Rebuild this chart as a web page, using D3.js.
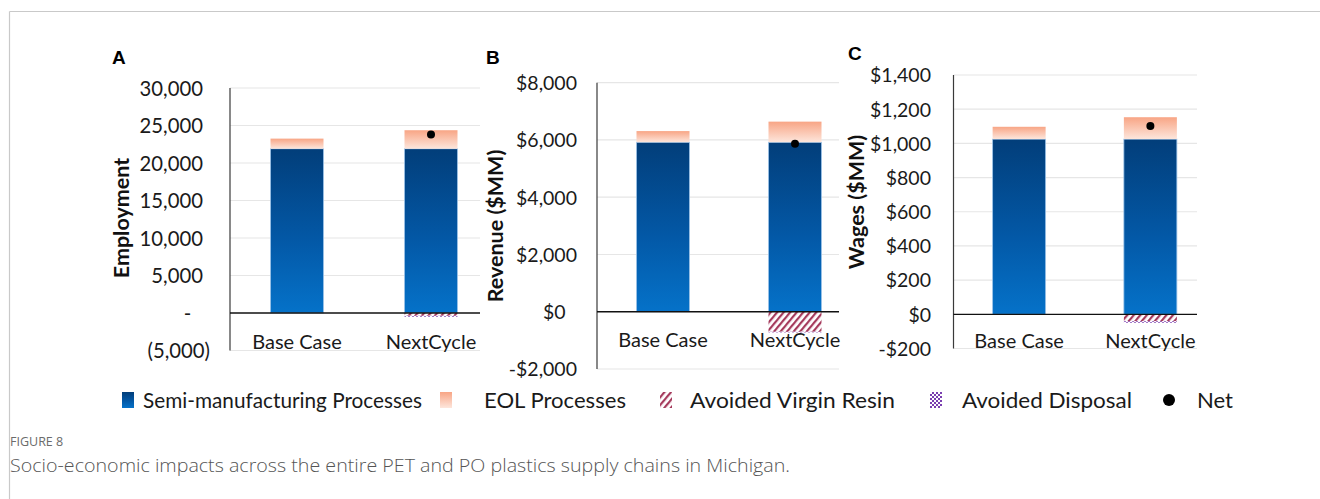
<!DOCTYPE html>
<html><head><meta charset="utf-8">
<script src="https://cdn.jsdelivr.net/npm/d3@7"></script>
<style>body{margin:0;background:#fff} svg{display:block}</style>
</head><body>
<svg id="c" width="1320" height="499"></svg>
<script>
// ---------- DATA ----------
const categories = ["Base Case", "NextCycle"];
const panelLetters = ["A", "B", "C"];
const axisTitles = ["Employment", "Revenue ($MM)", "Wages ($MM)"];
const legendLabels = ["Semi-manufacturing Processes", "EOL Processes", "Avoided Virgin Resin", "Avoided Disposal", "Net"];

const employmentSemi = [21900, 21900];
const employmentEOL = [1350, 2470];
const employmentVirgin = [0, -370];
const employmentDisposal = [0, -120];
const employmentNet = [null, 23800];
const employmentTicks = [-5000, 0, 5000, 10000, 15000, 20000, 25000, 30000];
const employmentTickLabels = ["(5,000)", "-\u2007", "5,000", "10,000", "15,000", "20,000", "25,000", "30,000"];

const revenueSemi = [5920, 5920];
const revenueEOL = [390, 720];
const revenueVirgin = [0, -700];
const revenueDisposal = [0, -20];
const revenueNet = [null, 5870];
const revenueTicks = [-2000, 0, 2000, 4000, 6000, 8000];
const revenueTickLabels = ["-$2,000", "$0\u2007", "$2,000", "$4,000", "$6,000", "$8,000"];

const wagesSemi = [1025, 1025];
const wagesEOL = [72, 128];
const wagesVirgin = [0, -41];
const wagesDisposal = [0, -8];
const wagesNet = [null, 1102];
const wagesTicks = [-200, 0, 200, 400, 600, 800, 1000, 1200, 1400];
const wagesTickLabels = ["-$200", "$0", "$200", "$400", "$600", "$800", "$1,000", "$1,200", "$1,400"];

const figureLabel = "FIGURE 8";
const captionText = "Socio-economic impacts across the entire PET and PO plastics supply chains in Michigan.";

// ---------- PANELS (built from the arrays) ----------
const panelData = [
  {semi: employmentSemi, eol: employmentEOL, virgin: employmentVirgin, disposal: employmentDisposal, net: employmentNet, ticks: employmentTicks, tickLabels: employmentTickLabels},
  {semi: revenueSemi, eol: revenueEOL, virgin: revenueVirgin, disposal: revenueDisposal, net: revenueNet, ticks: revenueTicks, tickLabels: revenueTickLabels},
  {semi: wagesSemi, eol: wagesEOL, virgin: wagesVirgin, disposal: wagesDisposal, net: wagesNet, ticks: wagesTicks, tickLabels: wagesTickLabels}
];

const layouts = [
  {x0: 230, gridEnd: 480, bandEnd: 498, yTop: 88, yBot: 350.5, labelEnd: 203, tickSize: 20.3, titleX: 121, titleY: 218, letterX: 112, letterY: 64, catY: 349},
  {x0: 597, gridEnd: 839, bandEnd: 861, yTop: 82.7, yBot: 369, labelEnd: 577, tickSize: 19.5, titleX: 495, titleY: 226, letterX: 486, letterY: 64, catY: 347},
  {x0: 953.5, gridEnd: 1197, bandEnd: 1216, yTop: 75, yBot: 348.5, labelEnd: 931, tickSize: 19.5, titleX: 856, titleY: 202, letterX: 848, letterY: 60, catY: 348}
];

const FONT = "Lato, 'Open Sans', sans-serif";
const svg = d3.select("#c");
const defs = svg.append("defs");

const gSemi = defs.append("linearGradient").attr("id", "gSemi").attr("x1", 0).attr("y1", 0).attr("x2", 0).attr("y2", 1);
gSemi.append("stop").attr("offset", "0%").attr("stop-color", "#023e7a");
gSemi.append("stop").attr("offset", "55%").attr("stop-color", "#0358a6");
gSemi.append("stop").attr("offset", "100%").attr("stop-color", "#0572c9");

const gEol = defs.append("linearGradient").attr("id", "gEol").attr("x1", 0).attr("y1", 0).attr("x2", 0).attr("y2", 1);
gEol.append("stop").attr("offset", "0%").attr("stop-color", "#f8a585");
gEol.append("stop").attr("offset", "100%").attr("stop-color", "#fde6dc");

const pHatch = defs.append("pattern").attr("id", "pHatch").attr("patternUnits", "userSpaceOnUse")
  .attr("width", 5).attr("height", 5).attr("patternTransform", "rotate(40)");
pHatch.append("rect").attr("width", 5).attr("height", 5).attr("fill", "#fff");
pHatch.append("rect").attr("width", 2.2).attr("height", 5).attr("fill", "#a53a5c");

const pCheck = defs.append("pattern").attr("id", "pCheck").attr("patternUnits", "userSpaceOnUse")
  .attr("width", 4).attr("height", 4);
pCheck.append("rect").attr("width", 4).attr("height", 4).attr("fill", "#fff");
pCheck.append("rect").attr("width", 2).attr("height", 2).attr("fill", "#7a3fb0");
pCheck.append("rect").attr("x", 2).attr("y", 2).attr("width", 2).attr("height", 2).attr("fill", "#7a3fb0");

// frame
svg.append("line").attr("x1", 9.5).attr("x2", 1320).attr("y1", 11.5).attr("y2", 11.5).attr("stroke", "#c9c9c9").attr("stroke-width", 1.2);
svg.append("line").attr("x1", 9.5).attr("x2", 9.5).attr("y1", 11.5).attr("y2", 499).attr("stroke", "#c9c9c9").attr("stroke-width", 1.2);

const BAR_W = 53;

panelData.forEach((pd, i) => {
  const L = layouts[i];
  const g = svg.append("g");
  const y = d3.scaleLinear().domain(d3.extent(pd.ticks)).range([L.yBot, L.yTop]);
  const x = d3.scalePoint().domain(categories).range([L.x0, L.bandEnd]).padding(0.5);

  // gridlines
  g.selectAll(".grid").data(pd.ticks.filter(t => t !== 0)).enter().append("line")
    .attr("x1", L.x0).attr("x2", L.gridEnd)
    .attr("y1", d => y(d)).attr("y2", d => y(d))
    .attr("stroke", "#e6e6e6").attr("stroke-width", 1.2);

  // y axis with custom labels
  const axis = d3.axisLeft(y).tickValues(pd.ticks).tickSize(0).tickPadding(0)
    .tickFormat((d, k) => pd.tickLabels[k]);
  const ag = g.append("g").attr("transform", `translate(${L.labelEnd},0)`).call(axis);
  ag.select(".domain").remove();
  ag.selectAll("text").attr("font-family", FONT).attr("font-size", L.tickSize).attr("fill", "#1a1a1a")
    .attr("dy", "0.35em")
    .attr("dx", (d, k) => pd.tickLabels[k].endsWith(")") ? 7 : 0);

  // axis line
  g.append("line").attr("x1", L.x0).attr("x2", L.x0).attr("y1", L.yTop).attr("y2", L.yBot)
    .attr("stroke", "#3a3a3a").attr("stroke-width", 1.2);

  // semi bars
  g.selectAll(".semi").data(categories).enter().append("rect")
    .attr("x", d => x(d) - BAR_W / 2).attr("width", BAR_W)
    .attr("y", (d, k) => y(pd.semi[k])).attr("height", (d, k) => y(0) - y(pd.semi[k]))
    .attr("fill", "url(#gSemi)").attr("stroke", "#9cc3e8").attr("stroke-width", 0.8);
  // eol bars
  g.selectAll(".eol").data(categories).enter().append("rect")
    .attr("x", d => x(d) - BAR_W / 2).attr("width", BAR_W)
    .attr("y", (d, k) => y(pd.semi[k] + pd.eol[k])).attr("height", (d, k) => y(pd.semi[k]) - y(pd.semi[k] + pd.eol[k]))
    .attr("fill", "url(#gEol)");
  // avoided virgin resin (negative)
  g.selectAll(".virgin").data(categories).enter().append("rect")
    .attr("x", d => x(d) - BAR_W / 2).attr("width", BAR_W)
    .attr("y", y(0)).attr("height", (d, k) => y(pd.virgin[k]) - y(0))
    .attr("fill", "url(#pHatch)");
  // avoided disposal (negative, stacked below)
  g.selectAll(".disp").data(categories).enter().append("rect")
    .attr("x", d => x(d) - BAR_W / 2).attr("width", BAR_W)
    .attr("y", (d, k) => y(pd.virgin[k])).attr("height", (d, k) => y(pd.virgin[k] + pd.disposal[k]) - y(pd.virgin[k]))
    .attr("fill", "url(#pCheck)");

  // zero line
  g.append("line").attr("x1", L.x0).attr("x2", L.gridEnd).attr("y1", y(0)).attr("y2", y(0))
    .attr("stroke", "#111").attr("stroke-width", 1.3);

  // net dots
  g.selectAll(".net").data(categories.filter((d, k) => pd.net[k] != null)).enter().append("circle")
    .attr("cx", d => x(d)).attr("cy", d => y(pd.net[categories.indexOf(d)])).attr("r", 4)
    .attr("fill", "#000");

  // category labels
  g.selectAll(".cat").data(categories).enter().append("text")
    .attr("x", d => x(d)).attr("y", L.catY).attr("text-anchor", "middle")
    .attr("font-family", FONT).attr("font-size", 20).attr("fill", "#1a1a1a").text(d => d);

  // axis title
  g.append("text").attr("transform", `translate(${L.titleX},${L.titleY}) rotate(-90)`)
    .attr("text-anchor", "middle").attr("dy", "0.35em")
    .attr("font-family", FONT).attr("font-weight", "bold").attr("font-size", 21.5).attr("fill", "#111")
    .text(axisTitles[i]);

  // panel letter
  g.append("text").attr("x", L.letterX).attr("y", L.letterY)
    .attr("font-family", "'Liberation Sans', Arial, sans-serif").attr("font-weight", "bold").attr("font-size", 19).attr("fill", "#000")
    .text(panelLetters[i]);
});

// ---------- LEGEND ----------
const legIconX = [122, 440, 660, 930, 1163];
const legTextX = [143, 484, 690, 962, 1197];
const legWidths = [279, 142, 205, 170, 36];
const legFills = ["url(#gSemi)", "url(#gEol)", "url(#pHatch)", "url(#pCheck)", null];
const lg = svg.append("g");
legendLabels.forEach((lab, k) => {
  if (legFills[k]) {
    lg.append("rect").attr("x", legIconX[k]).attr("y", 392).attr("width", 12).attr("height", 16).attr("fill", legFills[k]);
  } else {
    lg.append("circle").attr("cx", legIconX[k] + 6).attr("cy", 400).attr("r", 6).attr("fill", "#000");
  }
  lg.append("text").attr("x", legTextX[k]).attr("y", 400).attr("dy", "0.35em")
    .attr("font-family", FONT).attr("font-size", 22).attr("fill", "#1a1a1a")
    .attr("textLength", legWidths[k]).attr("lengthAdjust", "spacingAndGlyphs").text(lab);
});

// ---------- CAPTION ----------
svg.append("text").attr("x", 10).attr("y", 446).attr("font-family", "'Open Sans', sans-serif").attr("font-size", 12.5)
  .attr("fill", "#6b6b6b").text(figureLabel);
svg.append("text").attr("x", 10).attr("y", 472).attr("font-family", "'Open Sans', sans-serif").attr("font-weight", 300).attr("font-size", 18)
  .attr("fill", "#555").attr("textLength", 780).attr("lengthAdjust", "spacingAndGlyphs").text(captionText);
</script>
</body></html>
